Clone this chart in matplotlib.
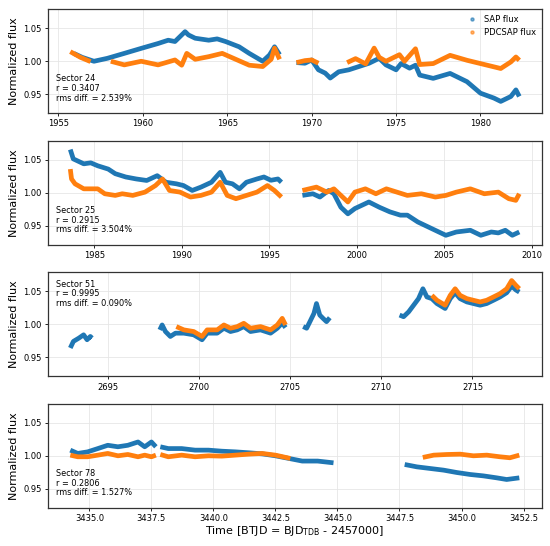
import numpy as np
import matplotlib
matplotlib.use("Agg")
import matplotlib.pyplot as plt
from matplotlib.lines import Line2D

nan = np.nan

# Sector 24 (gaps marked with nan)
S24_SAP_T = [1955.9, 1956.4, 1957.1, 1957.9, 1958.9, 1959.9, 1960.9, 1961.5, 1961.9, 1962.5, 1962.7,
             1963.1, 1963.9, 1964.4, 1964.9, 1965.7, 1966.3, 1966.8, 1967.1, 1967.5, 1967.8, 1968.1,
             1968.6,
             1969.1, 1969.6, 1970.0, 1970.4, 1970.8, 1971.1, 1971.6, 1972.2, 1972.8, 1973.4, 1974.0,
             1974.4, 1975.0, 1975.3, 1975.8, 1976.15, 1976.4, 1977.2, 1978.2, 1979.2, 1980.0, 1980.8,
             1981.2, 1981.8, 1982.1, 1982.3]
S24_SAP_F = [1.012, 1.006, 1.000, 1.0045, 1.012, 1.0196, 1.027, 1.032, 1.030, 1.045, 1.040,
             1.035, 1.032, 1.034, 1.030, 1.022, 1.012, 1.0045, 1.000, 1.0095, 1.022, 1.010,
             nan,
             0.998, 0.997, 1.002, 0.987, 0.982, 0.9745, 0.984, 0.987, 0.992, 0.997, 1.0045,
             0.9945, 0.987, 0.9965, 0.9895, 0.994, 0.979, 0.974, 0.9815, 0.969, 0.9515, 0.944,
             0.939, 0.9465, 0.9565, 0.9465]
S24_PDC_T = [1955.7, 1956.3, 1956.9,
             1957.5,
             1958.1, 1958.9, 1959.9, 1960.9, 1961.9, 1962.3, 1962.6, 1963.1, 1963.9, 1964.7, 1965.5,
             1966.3, 1967.1, 1967.6, 1967.8, 1968.1,
             1968.6,
             1969.1, 1969.6, 1970.0, 1970.4,
             1971.2,
             1972.1, 1972.6, 1973.2, 1973.7, 1974.0, 1974.4, 1975.2, 1975.5, 1976.15, 1976.4, 1977.2,
             1978.2, 1979.2, 1980.0, 1980.8, 1981.2, 1981.8, 1982.1, 1982.3]
S24_PDC_F = [1.0146, 1.006, 0.9995,
             nan,
             1.000, 0.9945, 1.000, 0.9945, 1.002, 0.994, 1.012, 1.003, 1.007, 1.012, 1.003,
             0.994, 0.992, 1.003, 1.020, 1.003,
             nan,
             0.998, 1.001, 1.002, 0.997,
             nan,
             0.998, 1.004, 0.996, 1.020, 1.006, 1.000, 1.010, 1.000, 1.019, 0.995, 0.9965,
             1.009, 1.0015, 0.9965, 0.9915, 0.989, 0.999, 1.0065, 1.0015]

# Sector 25
S25_SAP_T = [1983.63, 1983.8, 1984.4, 1984.8, 1985.2, 1985.8, 1986.2, 1986.8, 1987.4, 1988.0, 1988.6,
             1989.1, 1989.7, 1990.1, 1990.6, 1991.1, 1991.7, 1992.2, 1992.5, 1992.9, 1993.3, 1993.7,
             1994.3, 1994.7, 1995.1, 1995.5, 1995.7,
             1996.3,
             1996.9, 1997.5, 1997.9, 1998.4, 1998.7, 1999.1, 1999.5, 1999.9, 2000.3, 2000.7, 2001.3,
             2001.9, 2002.5, 2002.9, 2003.5, 2004.1, 2004.7, 2005.1, 2005.7, 2006.5, 2007.1, 2007.7,
             2008.1, 2008.5, 2008.9, 2009.3]
S25_SAP_F = [1.0657, 1.0515, 1.044, 1.0455, 1.041, 1.036, 1.029, 1.024, 1.021, 1.0187, 1.026,
             1.016, 1.0136, 1.011, 1.0035, 1.0086, 1.016, 1.031, 1.016, 1.0136, 1.006, 1.016,
             1.021, 1.024, 1.019, 1.021, 1.016,
             nan,
             0.996, 0.9985, 0.9935, 1.0035, 0.9985, 0.978, 0.968, 0.976, 0.981, 0.986, 0.978,
             0.971, 0.966, 0.966, 0.9556, 0.948, 0.9404, 0.9354, 0.9404, 0.943, 0.9354, 0.9404,
             0.939, 0.943, 0.9354, 0.9404]
S25_PDC_T = [1983.63, 1983.7, 1983.9, 1984.4, 1985.2, 1985.6, 1986.2, 1986.6, 1987.2, 1987.9, 1988.5,
             1988.9, 1989.3, 1989.9, 1990.5, 1991.1, 1991.7, 1992.2, 1992.6, 1993.1, 1993.7, 1994.3,
             1994.9, 1995.3, 1995.7,
             1996.3,
             1996.9, 1997.7, 1998.3, 1998.7, 1999.2, 1999.5, 1999.9, 2000.5, 2001.1, 2001.7, 2002.3,
             2002.9, 2003.7, 2004.5, 2005.1, 2005.7, 2006.5, 2007.3, 2008.1, 2008.7, 2009.1, 2009.3]
S25_PDC_F = [1.036, 1.021, 1.0136, 1.006, 1.006, 0.9985, 0.996, 0.9985, 0.996, 1.001, 1.011,
             1.021, 1.0035, 1.001, 0.9935, 0.996, 1.001, 1.016, 0.996, 0.991, 0.996, 1.001,
             1.011, 1.0035, 0.9935,
             nan,
             1.0035, 1.0086, 1.001, 1.006, 0.9935, 0.986, 1.001, 1.006, 0.9985, 1.006, 1.001,
             0.996, 0.9985, 0.9935, 0.996, 1.001, 1.006, 0.9985, 1.001, 0.991, 0.9885, 0.9985]

# Sector 51
S51_SAP_T = [2692.93, 2693.1, 2693.4, 2693.66, 2693.85, 2694.03, 2694.12,
             2696.0,
             2697.84, 2697.97, 2698.15, 2698.42, 2698.7, 2699.16, 2699.7, 2700.16, 2700.44, 2700.99,
             2701.36, 2701.72, 2702.09, 2702.45, 2702.82, 2703.37, 2703.92, 2704.29, 2704.56, 2704.74,
             2705.2,
             2705.71, 2705.9, 2706.08, 2706.3, 2706.44, 2706.62, 2706.8, 2706.99, 2707.17,
             2709.0,
             2711.0, 2711.22, 2711.5, 2711.77, 2712.04, 2712.28, 2712.5, 2712.77, 2713.05, 2713.5,
             2713.78, 2714.05, 2714.32, 2714.69, 2715.05, 2715.42, 2715.78, 2716.15, 2716.51, 2716.88,
             2717.15, 2717.39, 2717.57]
S51_SAP_F = [0.964, 0.974, 0.979, 0.984, 0.9765, 0.9815, 0.979,
             nan,
             0.9915, 0.999, 0.989, 0.9815, 0.9865, 0.9865, 0.984, 0.9765, 0.9865, 0.9865,
             0.994, 0.989, 0.9915, 0.9965, 0.989, 0.9915, 0.9865, 0.994, 1.002, 0.995,
             nan,
             0.9965, 0.994, 1.004, 1.0165, 1.0315, 1.014, 1.009, 1.004, 1.010,
             nan,
             1.014, 1.0115, 1.019, 1.029, 1.039, 1.054, 1.0415, 1.039, 1.0315, 1.024,
             1.039, 1.048, 1.039, 1.034, 1.0315, 1.029, 1.0315, 1.0365, 1.0415, 1.048,
             1.058, 1.052, 1.049]
S51_PDC_T = [2698.75, 2699.16, 2699.7, 2700.16, 2700.44, 2700.99, 2701.36, 2701.72, 2702.09, 2702.45,
             2702.82, 2703.37, 2703.92, 2704.29, 2704.56, 2704.74,
             2708.0,
             2712.77, 2713.05, 2713.5, 2713.78, 2714.05, 2714.32, 2714.69, 2715.05, 2715.42, 2715.78,
             2716.15, 2716.51, 2716.88, 2717.15, 2717.39, 2717.57]
S51_PDC_F = [0.9965, 0.9915, 0.989, 0.9815, 0.9915, 0.9915, 0.999, 0.994, 0.9965, 1.0015,
             0.994, 0.9965, 0.9915, 0.999, 1.009, 0.999,
             nan,
             1.044, 1.0365, 1.029, 1.044, 1.054, 1.044, 1.039, 1.0365, 1.034, 1.0365,
             1.0415, 1.0465, 1.054, 1.0665, 1.059, 1.054]

# Sector 78
S78_SAP_T = [3434.23, 3434.53, 3434.93, 3435.34, 3435.74, 3436.15, 3436.55, 3436.96, 3437.23, 3437.5,
             3437.68,
             3437.77,
             3437.86, 3438.18, 3438.72, 3439.26, 3439.8, 3440.34, 3440.88, 3441.42, 3441.96, 3442.5,
             3443.04, 3443.58, 3444.2, 3444.84,
             3446.0,
             3447.71, 3448.2, 3448.74, 3449.28, 3449.81, 3450.35, 3450.88, 3451.42, 3451.82, 3452.33]
S78_SAP_F = [1.0086, 1.0036, 1.006, 1.011, 1.016, 1.0137, 1.016, 1.021, 1.0137, 1.021,
             1.0137,
             nan,
             1.0137, 1.011, 1.011, 1.0086, 1.0086, 1.007, 1.006, 1.0046, 1.003, 1.000,
             0.996, 0.992, 0.992, 0.9893,
             nan,
             0.9868, 0.9832, 0.9807, 0.9782, 0.9746, 0.9716, 0.9695, 0.9665, 0.964, 0.9665]
S78_PDC_T = [3434.23, 3434.53, 3434.93, 3435.34, 3435.74, 3436.15, 3436.55, 3436.96, 3437.23, 3437.5,
             3437.68,
             3437.77,
             3437.86, 3438.18, 3438.72, 3439.26, 3439.8, 3440.34, 3440.88, 3441.42, 3441.96, 3442.5,
             3443.1,
             3445.5,
             3448.44, 3448.88, 3449.41, 3449.95, 3450.48, 3451.02, 3451.55, 3451.95, 3452.33]
S78_PDC_F = [1.001, 0.9985, 0.9985, 1.001, 1.0036, 1.000, 1.002, 0.9985, 1.001, 0.9985,
             1.001,
             nan,
             1.002, 0.9985, 1.001, 0.9985, 1.000, 0.9995, 1.001, 1.0025, 1.0036, 1.001,
             0.996,
             nan,
             0.9975, 1.001, 1.002, 1.0025, 1.000, 1.001, 0.9985, 0.997, 1.001]

SECTORS = ["24", "25", "51", "78"]
R_VALUES = ["0.3407", "0.2915", "0.9995", "0.2806"]
RMS_DIFF = ["2.539%", "3.504%", "0.090%", "1.527%"]

SAP_COLOR = "#1f77b4"
PDC_COLOR = "#ff7f0e"


def main():
    series = [
        (S24_SAP_T, S24_SAP_F, S24_PDC_T, S24_PDC_F),
        (S25_SAP_T, S25_SAP_F, S25_PDC_T, S25_PDC_F),
        (S51_SAP_T, S51_SAP_F, S51_PDC_T, S51_PDC_F),
        (S78_SAP_T, S78_SAP_F, S78_PDC_T, S78_PDC_F),
    ]

    fig, axes = plt.subplots(4, 1, figsize=(5.5, 5.46), dpi=100)
    fig.subplots_adjust(left=0.087, right=0.985, top=0.983, bottom=0.070, hspace=0.265)

    for i, (ax, (st, sf, pt, pf)) in enumerate(zip(axes, series)):
        ax.plot(st, sf, color=SAP_COLOR, lw=3.4, solid_joinstyle="round", solid_capstyle="butt")
        ax.plot(pt, pf, color=PDC_COLOR, lw=3.4, solid_joinstyle="round", solid_capstyle="butt")
        ax.set_ylim(0.921, 1.079)
        ax.set_yticks([0.95, 1.00, 1.05])
        ax.set_yticklabels(["0.95", "1.00", "1.05"])
        ax.grid(True, color="#e6e6e6", lw=0.6)
        ax.set_axisbelow(True)
        ax.tick_params(labelsize=6, length=2.5, width=0.6, pad=2)
        ax.set_ylabel("Normalized flux", fontsize=8, labelpad=3)
        for sp in ax.spines.values():
            sp.set_color("#333333")
            sp.set_linewidth(0.9)

        label = f"Sector {SECTORS[i]}\nr = {R_VALUES[i]}\nrms diff. = {RMS_DIFF[i]}"
        if SECTORS[i] == "51":
            ax.text(0.017, 0.93, label, transform=ax.transAxes, fontsize=5.9,
                    va="top", ha="left", linespacing=1.1)
        else:
            ax.text(0.017, 0.1, label, transform=ax.transAxes, fontsize=5.9,
                    va="bottom", ha="left", linespacing=1.1)

    axes[2].set_xticks([2695, 2700, 2705, 2710, 2715])
    axes[3].xaxis.set_major_formatter(plt.FormatStrFormatter("%.1f"))
    axes[3].set_xlabel(r"Time [BTJD = BJD$_\mathrm{TDB}$ - 2457000]", fontsize=8, labelpad=1)

    handles = [
        Line2D([], [], ls="none", marker="o", ms=2.2, color=SAP_COLOR, alpha=0.6),
        Line2D([], [], ls="none", marker="o", ms=2.2, color=PDC_COLOR, alpha=0.6),
    ]
    axes[0].legend(handles, ["SAP flux", "PDCSAP flux"], loc="upper right", frameon=False,
                   fontsize=6, handlelength=1.2, handletextpad=0.8, borderaxespad=0.3,
                   labelspacing=0.5)

    fig.savefig("out.png", dpi=100)


if __name__ == "__main__":
    main()
